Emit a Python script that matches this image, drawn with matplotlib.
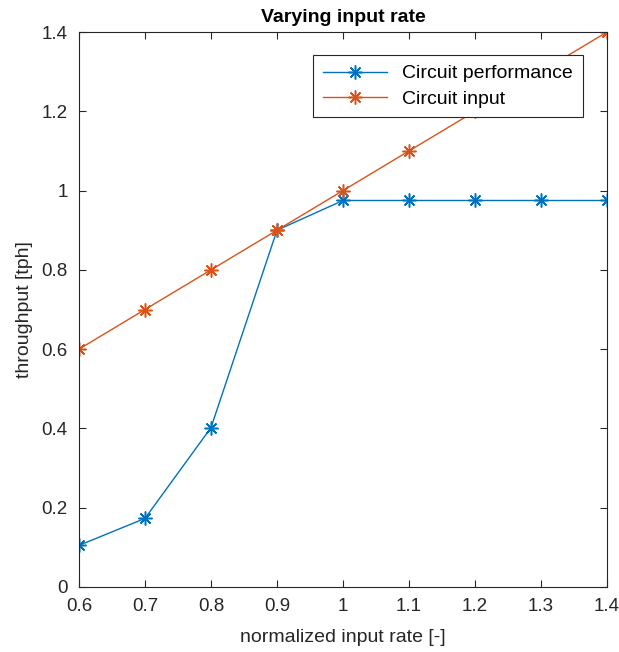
import matplotlib
matplotlib.use('Agg')
import matplotlib.pyplot as plt

# ── DATA ───────────────────────────────────────────────────────────────────────
input_rate = [0.6, 0.7, 0.8, 0.9, 1.0, 1.1, 1.2, 1.3, 1.4]
circuit_performance = [0.105, 0.173, 0.402, 0.900, 0.975, 0.975, 0.975, 0.975, 0.975]
circuit_input = [0.6, 0.7, 0.8, 0.9, 1.0, 1.1, 1.2, 1.3, 1.4]

x_ticks = [0.6, 0.7, 0.8, 0.9, 1.0, 1.1, 1.2, 1.3, 1.4]
x_labels = ['0.6', '0.7', '0.8', '0.9', '1', '1.1', '1.2', '1.3', '1.4']
y_ticks = [0, 0.2, 0.4, 0.6, 0.8, 1.0, 1.2, 1.4]
y_labels = ['0', '0.2', '0.4', '0.6', '0.8', '1', '1.2', '1.4']

BLUE = '#0072BD'
ORANGE = '#D95319'
AX_COL = '#262626'
ASTERISK = (8, 2, 0)   # MATLAB-style '*' marker

plt.rcParams['font.family'] = ['Liberation Sans', 'DejaVu Sans']

fig = plt.figure(figsize=(6.19, 6.52), dpi=100)
ax = fig.add_axes([0.1276, 0.0997, 0.8530, 0.8512])

ax.plot(input_rate, circuit_performance, color=BLUE, linewidth=1.0,
        marker=ASTERISK, markersize=10, markeredgewidth=1.1, label='Circuit performance')
ax.plot(input_rate, circuit_input, color=ORANGE, linewidth=1.0,
        marker=ASTERISK, markersize=10, markeredgewidth=1.1, label='Circuit input')

ax.set_xlim(0.6, 1.4)
ax.set_ylim(0, 1.4)
ax.set_xticks(x_ticks)
ax.set_xticklabels(x_labels)
ax.set_yticks(y_ticks)
ax.set_yticklabels(y_labels)

ax.tick_params(direction='in', top=True, right=True, length=5,
               labelsize=13.5, colors=AX_COL, width=0.8)
ax.tick_params(axis='x', pad=8)
ax.tick_params(axis='y', pad=8)
for spine in ax.spines.values():
    spine.set_edgecolor(AX_COL)
    spine.set_linewidth(0.8)

ax.set_xlabel('normalized input rate [-]', fontsize=14, color=AX_COL, labelpad=10)
ax.set_ylabel('throughput [tph]', fontsize=14, color=AX_COL, labelpad=6)
ax.set_title('Varying input rate', fontsize=14, fontweight='bold', pad=7)

leg = ax.legend(loc='upper right', bbox_to_anchor=(0.9545, 0.9586), borderaxespad=0,
                fontsize=14, fancybox=False, edgecolor=AX_COL, framealpha=1,
                handlelength=3.3, borderpad=0.5, labelspacing=0.4)
leg.get_frame().set_linewidth(0.8)

plt.savefig('out.png', dpi=100)
